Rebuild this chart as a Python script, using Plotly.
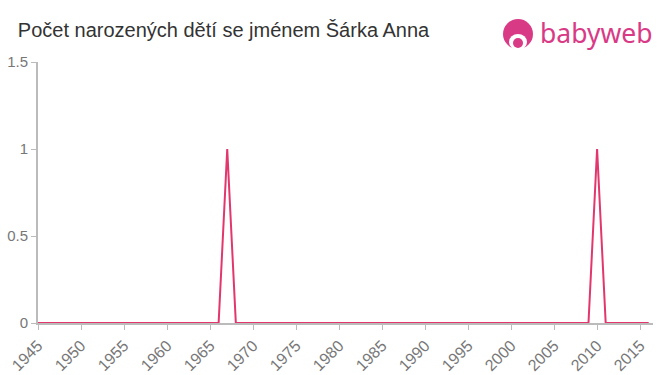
import plotly.graph_objects as go

years = list(range(1945, 2017))
counts = [0] * len(years)
peak_years = [1967, 2010]
peak_values = [1, 1]
for y, v in zip(peak_years, peak_values):
    counts[years.index(y)] = v

title_text = "Počet narozených dětí se jménem Šárka Anna"
x_ticks = list(range(1945, 2016, 5))
y_ticks = [0, 0.5, 1, 1.5]
y_tick_labels = ["0", "0.5", "1", "1.5"]

fig = go.Figure()
fig.add_trace(go.Scatter(
    x=years, y=counts, mode="lines",
    line=dict(color="#e2366c", width=2),
    hoverinfo="x+y",
))

axis_color = "#bbbbbb"
fig.update_layout(
    width=660, height=375,
    margin=dict(l=38, r=7, t=62, b=52),
    paper_bgcolor="white", plot_bgcolor="white",
    showlegend=False,
    font=dict(family="Liberation Sans, Arial, sans-serif", color="#777777", size=15),
    title=dict(text=title_text, x=0.027, xanchor="left", y=0.92, yanchor="middle",
               font=dict(size=20, color="#333333")),
    xaxis=dict(range=[1945, 2016.5], tickvals=x_ticks, tickangle=-45, automargin=False,
               showgrid=False, zeroline=False, showline=True, linecolor=axis_color,
               linewidth=2, ticks="outside", tickcolor=axis_color, ticklen=5, tickwidth=1,
               tickfont=dict(size=16, color="#777777")),
    yaxis=dict(range=[0, 1.5], tickvals=y_ticks, ticktext=y_tick_labels, automargin=False,
               showgrid=False, zeroline=False, showline=True, linecolor=axis_color,
               linewidth=2, ticks="outside", tickcolor=axis_color, ticklen=5, tickwidth=1,
               tickfont=dict(size=15, color="#777777")),
)

logo_color = "#d93a86"
# logo icon
fig.add_shape(type="circle", xref="paper", yref="paper",
              x0=(503 - 38) / 615, x1=(533 - 38) / 615,
              y0=(323 - 49) / 261, y1=(323 - 19) / 261,
              fillcolor=logo_color, line=dict(width=0), layer="above")
fig.add_shape(type="circle", xref="paper", yref="paper",
              x0=(509 - 38) / 615, x1=(527 - 38) / 615,
              y0=(323 - 50) / 261, y1=(323 - 34) / 261,
              fillcolor="white", line=dict(width=0), layer="above")
fig.add_shape(type="circle", xref="paper", yref="paper",
              x0=(513 - 38) / 615, x1=(523 - 38) / 615,
              y0=(323 - 48) / 261, y1=(323 - 38) / 261,
              fillcolor=logo_color, line=dict(width=0), layer="above")
fig.add_annotation(text="babyweb", xref="paper", yref="paper",
                   x=(538 - 38) / 615, y=(323 - 33) / 261, xanchor="left", yanchor="middle",
                   showarrow=False,
                   font=dict(family="Noto Sans, Arial, sans-serif", size=26.5, color=logo_color))

fig.write_html("out.html")
